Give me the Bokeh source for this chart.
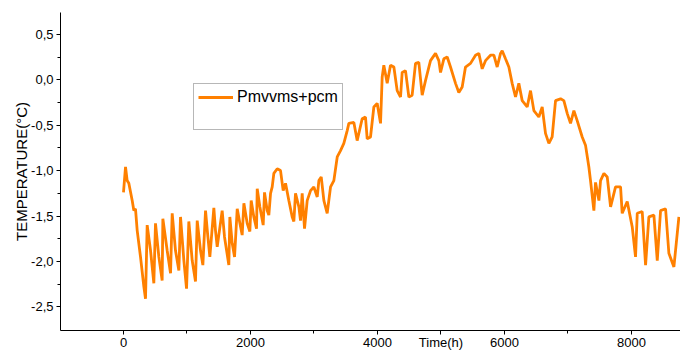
from bokeh.plotting import figure
from bokeh.models import FixedTicker, Range1d, Legend, LegendItem
from bokeh.embed import file_html
from bokeh.resources import INLINE

series_name = "Pmvvms+pcm"

time_h = [0, 32, 58, 84, 137, 163, 189, 216, 268, 321, 347, 373, 426, 478, 504, 557, 609,
          620, 688, 741, 767, 819, 872, 898, 951, 993, 1029, 1082, 1134, 1161, 1213, 1250,
          1292, 1329, 1360, 1423, 1449, 1476, 1554, 1591, 1659, 1675, 1712, 1749, 1791,
          1833, 1869, 1896, 1948, 1990, 2011, 2053, 2095, 2106, 2148, 2200, 2221, 2263,
          2289, 2316, 2342, 2368, 2421, 2473, 2515, 2552, 2604, 2657, 2683, 2709, 2762,
          2788, 2814, 2851, 2893, 2946, 2998, 3051, 3077, 3114, 3156, 3208, 3261, 3313,
          3366, 3418,
          3470, 3523, 3549, 3628, 3680, 3759, 3811, 3838, 3890, 3943, 3995, 4048, 4074,
          4100, 4153, 4205, 4258, 4310, 4363, 4389, 4441, 4494, 4546, 4599, 4651, 4704,
          4756, 4835, 4914, 4966, 4993, 5045, 5098, 5150, 5229, 5281, 5334, 5386, 5465,
          5544, 5596, 5649, 5701, 5780, 5833, 5885, 5938, 5964, 6016, 6069, 6121, 6174,
          6226, 6279, 6358, 6410, 6463, 6541, 6594, 6646, 6699, 6751, 6804, 6883, 6935,
          6988, 7040, 7093, 7145, 7224, 7276, 7329,
          7355, 7408, 7434, 7487, 7513, 7566, 7618, 7671, 7749, 7828, 7854, 7933, 8012,
          8064, 8091, 8169, 8222, 8274, 8353, 8406, 8458, 8537, 8589, 8668, 8747]

temp_c = [-1.24, -0.96, -1.11, -1.14, -1.33, -1.44, -1.42, -1.66, -1.95, -2.28, -2.41,
          -1.60, -1.88, -2.24, -1.58, -1.95, -2.21,
          -1.53, -1.88, -2.13, -1.47, -1.88, -2.10, -1.51, -1.99, -2.30, -1.56, -1.99,
          -2.22, -1.55, -1.88, -2.04,
          -1.44, -1.73, -1.95, -1.41, -1.66, -1.84, -1.44, -1.73, -2.04, -1.51, -1.80,
          -1.95, -1.42,
          -1.58, -1.71, -1.36, -1.58, -1.67, -1.33, -1.51, -1.64, -1.20, -1.40, -1.60,
          -1.24, -1.44,
          -1.49, -1.25, -1.18, -1.03, -0.98, -1.00, -1.22, -1.14, -1.33, -1.51, -1.56,
          -1.25, -1.40,
          -1.55, -1.25, -1.64, -1.33, -1.22, -1.18, -1.29, -1.11, -1.07, -1.33, -1.47,
          -1.18, -1.11,
          -0.85, -0.78,
          -0.70, -0.56, -0.48, -0.47, -0.67, -0.43, -0.41, -0.65, -0.63, -0.30, -0.26,
          -0.48, 0.03,
          0.16, -0.04, 0.16, 0.14, -0.12, -0.19, 0.08, 0.10, -0.19, -0.17, 0.18, 0.19,
          -0.17,
          -0.01, 0.21, 0.29, 0.21, 0.08, 0.23, 0.25, 0.14, -0.04, -0.14, -0.08, 0.14,
          0.18,
          0.27, 0.29, 0.12, 0.21, 0.27, 0.27, 0.14, 0.29, 0.32, 0.23, 0.14, -0.04, -0.19,
          -0.04, -0.23, -0.30, -0.12, -0.34, -0.41, -0.30, -0.59, -0.70, -0.63, -0.23,
          -0.21, -0.23,
          -0.37, -0.48, -0.34, -0.45, -0.63, -0.72, -0.96,
          -1.11, -1.44, -1.13, -1.33, -1.11, -1.03, -1.07, -1.40, -1.18, -1.18, -1.47,
          -1.34, -1.62,
          -1.95, -1.47, -1.45, -2.04, -1.51, -1.49, -1.99, -1.44, -1.42, -1.91, -2.06,
          -1.51]

# x axis: the "Time(h)" title sits in the tick-label row, at t = 5000
x_ticks = [0, 2000, 4000, 5000, 6000, 8000]
x_tick_labels = ["0", "2000", "4000", "Time(h)", "6000", "8000"]
x_minor_ticks = [1000, 3000, 7000]
y_ticks = [-2.5, -2.0, -1.5, -1.0, -0.5, 0.0, 0.5]
y_tick_labels = ["-2,5", "-2,0", "-1,5", "-1,0", "-0,5", "0,0", "0,5"]
y_minor_ticks = [-2.25, -1.75, -1.25, -0.75, -0.25, 0.25]
y_title = "TEMPERATURE(°C)"

FONT = "Liberation Sans"
ORANGE = "#FF8000"

p = figure(width=680, height=352, output_backend="svg", toolbar_location=None,
           x_range=Range1d(-992, 8772), y_range=Range1d(-2.76, 0.74),
           min_border_left=60, min_border_right=0, min_border_top=12,
           min_border_bottom=21)
p.xgrid.visible = False
p.ygrid.visible = False
p.outline_line_color = None
p.background_fill_color = "white"
p.border_fill_color = "white"

r = p.line(time_h, temp_c, line_color=ORANGE, line_width=2.8)
spacer = p.line([], [], line_alpha=0)

for ax in (p.xaxis[0], p.yaxis[0]):
    ax.axis_line_color = "black"
    ax.axis_line_width = 1
    ax.major_tick_in = 0
    ax.major_tick_out = 4
    ax.minor_tick_in = 0
    ax.minor_tick_out = 3
    ax.major_tick_line_color = "black"
    ax.minor_tick_line_color = "black"
    ax.major_label_text_font = FONT
    ax.major_label_text_font_size = "13px"
    ax.major_label_text_color = "black"

p.xaxis.ticker = FixedTicker(ticks=x_ticks, minor_ticks=x_minor_ticks)
p.xaxis.major_label_overrides = {t: s for t, s in zip(x_ticks, x_tick_labels)}
p.xaxis.major_label_standoff = 0

p.yaxis.ticker = FixedTicker(ticks=y_ticks, minor_ticks=y_minor_ticks)
p.yaxis.major_label_overrides = {t: s for t, s in zip(y_ticks, y_tick_labels)}
p.yaxis.major_label_standoff = 3
p.yaxis.axis_label = y_title
p.yaxis.axis_label_text_font = FONT
p.yaxis.axis_label_text_font_size = "15px"
p.yaxis.axis_label_text_font_style = "normal"
p.yaxis.axis_label_text_color = "black"
p.yaxis.axis_label_standoff = -2

legend = Legend(items=[LegendItem(label=series_name, renderers=[r]),
                       LegendItem(label=" ", renderers=[spacer])],
                location=(133, 200), padding=4, spacing=3, margin=0,
                glyph_width=35, glyph_height=16, label_height=16,
                label_standoff=4, label_text_font=FONT,
                label_text_font_size="16px", label_text_color="black",
                border_line_color="#707070", border_line_width=1,
                background_fill_color="white", background_fill_alpha=1.0)
p.add_layout(legend)

open("out.html", "w").write(file_html(p, INLINE))
